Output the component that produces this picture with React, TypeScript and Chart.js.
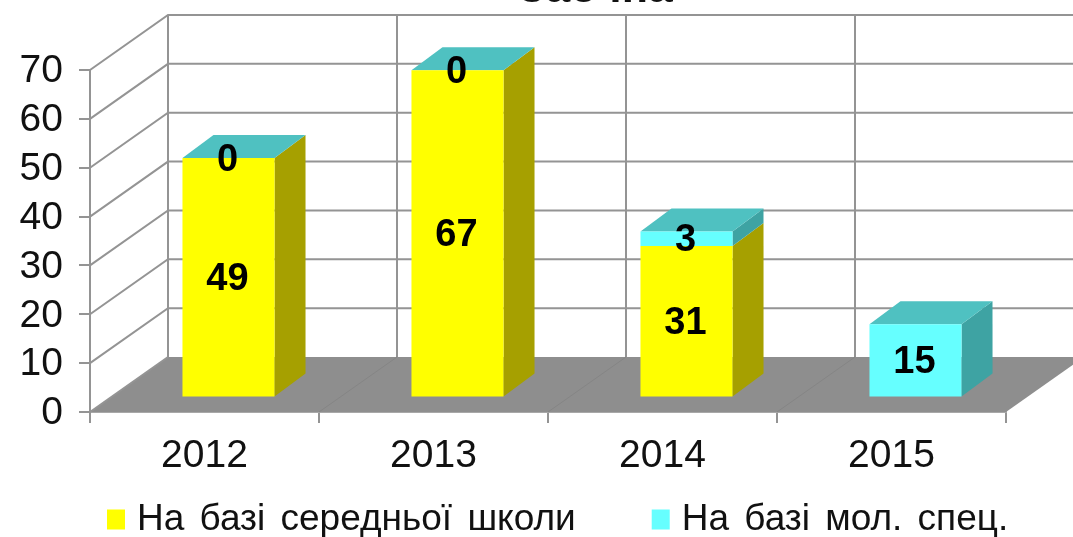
import React, { useEffect, useRef } from "react";
import { Chart, registerables } from "chart.js";

Chart.register(...registerables);

const categories = ["2012", "2013", "2014", "2015"];
const schoolValues = [49, 67, 31, null];
const specValues = [0, 0, 3, 15];
const seriesNames = ["На базі середньої школи", "На базі мол. спец."];
const titleText = "Заочна";

const YELLOW = "#FFFF00";
const CYAN = "#66FFFF";
const TOP_COLOR = "#4FC1C1";
const SIDES = ["#A6A000", "#3EA3A3"];
const GRID = "#949494";

const WALL_DX = 78;
const WALL_DY = -55;
const BAR_SHIFT_X = 24;
const BAR_SHIFT_Y = -14.5;
const BAR_DX = 31;
const BAR_DY = -23;

const scene3d = {
  id: "scene3d",
  beforeUpdate(chart: any) {
    chart.ctx.wordSpacing = "5px";
  },
  beforeDraw(chart: any) {
    chart.ctx.wordSpacing = "5px";
  },
  afterLayout(chart: any) {
    const legend = chart.legend;
    const pad = legend.options.labels.padding;
    legend.left = 113.5 - pad;
    legend.top = 501 - pad;
    legend.right = 3000;
    legend.bottom = 3000;
    legend.width = 3000;
    legend.height = 3000;
    const tb = chart.titleBlock;
    tb.left = 595 - 536;
    tb.right = 1073 + 595 - 536;
    tb.top = -37;
  },
  beforeDatasetsDraw(chart: any) {
    const { ctx, chartArea, scales } = chart;
    const y = scales.y;
    const { left, right, bottom } = chartArea;
    ctx.save();
    // floor
    ctx.fillStyle = "#8E8E8E";
    ctx.beginPath();
    ctx.moveTo(left, bottom);
    ctx.lineTo(right, bottom);
    ctx.lineTo(right + WALL_DX, bottom + WALL_DY);
    ctx.lineTo(left + WALL_DX, bottom + WALL_DY);
    ctx.closePath();
    ctx.fill();
    // horizontal grid on walls
    ctx.strokeStyle = GRID;
    ctx.lineWidth = 2;
    y.ticks.forEach((t: any) => {
      const py = y.getPixelForValue(t.value);
      ctx.beginPath();
      ctx.moveTo(left, py);
      ctx.lineTo(left + WALL_DX, py + WALL_DY);
      if (t.value !== 0) ctx.lineTo(right + WALL_DX, py + WALL_DY);
      ctx.stroke();
    });
    // vertical grid on the back wall and floor dividers
    const topY = y.getPixelForValue(70) + WALL_DY;
    const bandW = (right - left) / categories.length;
    categories.forEach((_, i) => {
      const px = left + bandW * i;
      ctx.strokeStyle = GRID;
      ctx.lineWidth = 2;
      ctx.beginPath();
      ctx.moveTo(px + WALL_DX, topY);
      ctx.lineTo(px + WALL_DX, bottom + WALL_DY);
      ctx.stroke();
      if (i > 0) {
        ctx.strokeStyle = "#858585";
        ctx.lineWidth = 1;
        ctx.beginPath();
        ctx.moveTo(px, bottom);
        ctx.lineTo(px + WALL_DX, bottom + WALL_DY);
        ctx.stroke();
      }
    });
    // bar sides and tops
    categories.forEach((_, i) => {
      [0, 1].forEach((d) => {
        const el = chart.getDatasetMeta(d).data[i];
        const v = chart.data.datasets[d].data[i];
        if (v === null || v === undefined) return;
        const hw = el.width / 2;
        const xl = el.x - hw + BAR_SHIFT_X;
        const xr = el.x + hw + BAR_SHIFT_X;
        const yt = el.y + BAR_SHIFT_Y;
        const yb = el.base + BAR_SHIFT_Y;
        ctx.fillStyle = SIDES[d];
        ctx.beginPath();
        ctx.moveTo(xr, yb);
        ctx.lineTo(xr + BAR_DX, yb + BAR_DY);
        ctx.lineTo(xr + BAR_DX, yt + BAR_DY);
        ctx.lineTo(xr, yt);
        ctx.closePath();
        ctx.fill();
        if (d === 1) {
          ctx.fillStyle = TOP_COLOR;
          ctx.beginPath();
          ctx.moveTo(xl, yt);
          ctx.lineTo(xr, yt);
          ctx.lineTo(xr + BAR_DX, yt + BAR_DY);
          ctx.lineTo(xl + BAR_DX, yt + BAR_DY);
          ctx.closePath();
          ctx.fill();
        }
      });
    });
    ctx.restore();
  },
  beforeDatasetDraw(chart: any) {
    chart.ctx.save();
    chart.ctx.translate(BAR_SHIFT_X, BAR_SHIFT_Y);
  },
  afterDatasetDraw(chart: any) {
    chart.ctx.restore();
  },
  afterDatasetsDraw(chart: any) {
    const { ctx } = chart;
    ctx.save();
    ctx.font = "bold 38px 'Liberation Sans'";
    ctx.fillStyle = "#000";
    ctx.textAlign = "center";
    ctx.textBaseline = "middle";
    [0, 1].forEach((d) => {
      chart.getDatasetMeta(d).data.forEach((el: any, i: number) => {
        const v = chart.data.datasets[d].data[i];
        if (v === null || v === undefined) return;
        ctx.fillText(String(v), el.x + BAR_SHIFT_X - 1, (el.y + el.base) / 2 + BAR_SHIFT_Y + 2);
      });
    });
    ctx.restore();
  },
};

export default function App() {
  const ref = useRef<HTMLCanvasElement>(null);
  useEffect(() => {
    document.body.style.margin = "0";
    const font = { family: "'Liberation Sans', Arial, sans-serif", size: 39 };
    const chart = new Chart(ref.current as HTMLCanvasElement, {
      type: "bar",
      data: {
        labels: categories,
        datasets: [
          { label: seriesNames[0], data: schoolValues, backgroundColor: YELLOW, stack: "a", clip: false },
          { label: seriesNames[1], data: specValues, backgroundColor: CYAN, stack: "a", clip: false },
        ],
      },
      options: {
        responsive: false,
        animation: false,
        events: [],
        layout: { padding: { top: 17.2, bottom: 5, left: 0, right: 67 } },
        datasets: { bar: { barPercentage: 0.402, categoryPercentage: 1 } },
        scales: {
          x: {
            stacked: true,
            afterFit: (s: any) => { s.height = 60; },
            border: { display: true, color: "#A8A8A8", width: 2 },
            grid: { drawOnChartArea: false, drawTicks: true, tickLength: 11, color: GRID, lineWidth: 2 },
            ticks: { font, color: "#111", padding: 10, maxRotation: 0 },
          },
          y: {
            stacked: true,
            min: 0,
            max: 70,
            afterFit: (s: any) => { s.width = 90; },
            border: { display: true, color: GRID, width: 2 },
            grid: { drawOnChartArea: false, drawTicks: true, tickLength: 11, color: GRID, lineWidth: 2 },
            ticks: { font, color: "#111", stepSize: 10, padding: 16, labelOffset: 1.5, autoSkip: false },
          },
        },
        plugins: {
          tooltip: { enabled: false },
          title: {
            display: true,
            text: titleText,
            color: "#111",
            padding: 0,
            font: { family: "'Liberation Sans', Arial, sans-serif", size: 44, weight: "bold", lineHeight: 1.2 },
          },
          legend: {
            display: true,
            position: "bottom",
            align: "start",
            maxHeight: 60,
            labels: {
              color: "#111",
              boxWidth: 5,
              boxHeight: 7,
              padding: 82.5,
              font: { family: "'Liberation Sans', Arial, sans-serif", size: 37 },
              generateLabels(c: any) {
                return Chart.defaults.plugins.legend.labels.generateLabels(c).map((l: any) => ({
                  ...l,
                  lineWidth: 13,
                  strokeStyle: l.fillStyle,
                }));
              },
            },
          },
        },
      } as any,
      plugins: [scene3d as any],
    });
    return () => chart.destroy();
  }, []);
  return (
    <div style={{ width: 1073, height: 537, overflow: "hidden" }}>
      <canvas ref={ref} width={1073} height={537} style={{ display: "block" }} />
    </div>
  );
}
